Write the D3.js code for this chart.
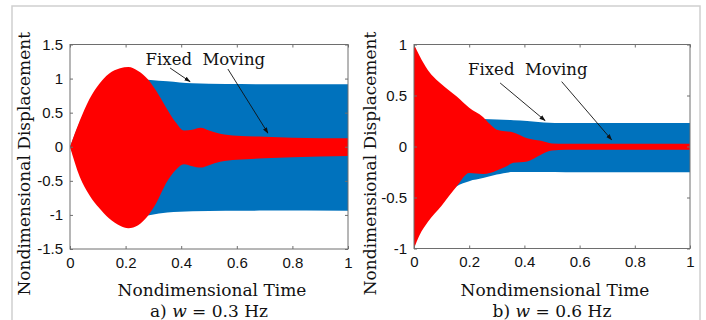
<!DOCTYPE html>
<html>
<head>
<meta charset="utf-8">
<script src="https://cdnjs.cloudflare.com/ajax/libs/d3/7.8.5/d3.min.js"></script>
<style>
  body { margin: 0; background: #fff; }
  svg { display: block; }
  .tick-label { font-family: "Liberation Sans", Arial, sans-serif; font-size: 15px; fill: #111; }
  .serif { font-family: "DejaVu Serif", serif; font-size: 17px; fill: #111; }
  .note { font-family: "DejaVu Serif", serif; font-size: 16.5px; fill: #111; }
</style>
</head>
<body>
<svg id="chart" width="706" height="320"></svg>
<script>
// panel a) w = 0.3 Hz
let timeFixedA = [0, 0.05, 0.1, 0.15, 0.2, 0.25, 0.29, 0.35, 0.44, 0.56, 0.7, 1.0];
let fixedUpA   = [0, 0.5, 0.85, 0.97, 1.0, 0.99, 0.98, 0.96, 0.93, 0.92, 0.918, 0.918];
let fixedLowA  = [0, -0.5, -0.85, -0.99, -1.05, -1.03, -1.0, -0.965, -0.947, -0.94, -0.937, -0.94];

let timeMovingA = [0, 0.035, 0.07, 0.105, 0.14, 0.18, 0.21, 0.245, 0.28, 0.31, 0.345, 0.38, 0.41, 0.44, 0.47, 0.5, 0.54, 0.6, 0.7, 0.8, 1.0];
let movingUpA   = [0, 0.38, 0.70, 0.92, 1.07, 1.15, 1.17, 1.11, 0.99, 0.82, 0.58, 0.36, 0.24, 0.25, 0.28, 0.24, 0.19, 0.16, 0.147, 0.133, 0.124];
let movingLowA  = [0, -0.44, -0.71, -0.90, -1.05, -1.16, -1.195, -1.15, -1.015, -0.83, -0.54, -0.34, -0.255, -0.285, -0.305, -0.27, -0.22, -0.19, -0.17, -0.155, -0.136];

// panel b) w = 0.6 Hz
let timeFixedB = [0, 0.1, 0.155, 0.2, 0.25, 0.3, 0.36, 0.41, 0.47, 0.55, 1.0];
let fixedUpB   = [0.9, 0.55, 0.42, 0.33, 0.27, 0.265, 0.258, 0.25, 0.235, 0.23, 0.23];
let fixedLowB  = [-0.9, -0.55, -0.39, -0.34, -0.31, -0.275, -0.25, -0.25, -0.25, -0.252, -0.252];

let timeMovingB = [0, 0.02, 0.05, 0.1, 0.155, 0.2, 0.25, 0.275, 0.3, 0.33, 0.36, 0.41, 0.46, 0.5, 0.55, 1.0];
let movingUpB   = [1.0, 0.89, 0.75, 0.61, 0.49, 0.38, 0.29, 0.22, 0.165, 0.15, 0.138, 0.082, 0.056, 0.03, 0.027, 0.027];
let movingLowB  = [-1.0, -0.87, -0.74, -0.58, -0.39, -0.26, -0.27, -0.26, -0.235, -0.2, -0.16, -0.146, -0.08, -0.04, -0.032, -0.032];

let xTicks = [0, 0.2, 0.4, 0.6, 0.8, 1];
let yTicksA = [-1.5, -1, -0.5, 0, 0.5, 1, 1.5];
let yTicksB = [-1, -0.5, 0, 0.5, 1];

let svg = d3.select("#chart");

// outer frame
svg.append("rect")
    .attr("x", 12).attr("y", 6)
    .attr("width", 688).attr("height", 330)
    .attr("fill", "none")
    .attr("stroke", "#cfcfcf")
    .attr("stroke-width", 1.5);

svg.append("defs").append("marker")
    .attr("id", "head")
    .attr("viewBox", "0 0 10 10")
    .attr("refX", 9).attr("refY", 5)
    .attr("markerWidth", 7).attr("markerHeight", 7)
    .attr("orient", "auto")
    .append("path")
    .attr("d", "M0,1.5 L10,5 L0,8.5 Z")
    .attr("fill", "#111");

let panels = [
    {
        left: 70, right: 348, top: 44.5, bottom: 249,
        yDomain: [-1.5, 1.5], yTicks: yTicksA,
        fixed: [timeFixedA, fixedUpA, fixedLowA],
        moving: [timeMovingA, movingUpA, movingLowA],
        text: [0.272, 1.2],
        arrowFixed: [[0.36, 1.155], [0.432, 0.955]],
        arrowMoving: [[0.568, 1.14], [0.712, 0.2]],
        ylabelX: 24,
        caption: ["a) ", "0.3"]
    },
    {
        left: 414, right: 690, top: 44.5, bottom: 248.5,
        yDomain: [-1, 1], yTicks: yTicksB,
        fixed: [timeFixedB, fixedUpB, fixedLowB],
        moving: [timeMovingB, movingUpB, movingLowB],
        text: [0.196, 0.70],
        arrowFixed: [[0.312, 0.623], [0.475, 0.254]],
        arrowMoving: [[0.535, 0.636], [0.716, 0.066]],
        ylabelX: 370,
        caption: ["b) ", "0.6"]
    }
];

panels.forEach(function(p) {
    let x = d3.scaleLinear().domain([0, 1]).range([p.left, p.right]);
    let y = d3.scaleLinear().domain(p.yDomain).range([p.bottom, p.top]);

    let g = svg.append("g");

    function band(series, color) {
        let pts = series[0].map(function(t, i) { return { t: t, hi: series[1][i], lo: series[2][i] }; });
        let area = d3.area()
            .curve(d3.curveMonotoneX)
            .x(function(d) { return x(d.t); })
            .y0(function(d) { return y(d.lo); })
            .y1(function(d) { return y(d.hi); });
        g.append("path")
            .datum(pts)
            .attr("d", area)
            .attr("fill", color);
    }

    band(p.fixed, "#0072bd");
    band(p.moving, "#ff0000");

    // axes box with inward ticks on all sides
    g.append("rect")
        .attr("x", p.left).attr("y", p.top)
        .attr("width", p.right - p.left).attr("height", p.bottom - p.top)
        .attr("fill", "none")
        .attr("stroke", "#6e6e6e")
        .attr("stroke-width", 1);

    let tickLen = 3;
    g.append("g")
        .attr("transform", "translate(0," + p.bottom + ")")
        .call(d3.axisBottom(x).tickValues(xTicks).tickSize(-tickLen).tickPadding(8).tickFormat(d3.format("")))
        .call(function(a) {
            a.select(".domain").remove();
            a.selectAll("line").attr("stroke", "#6e6e6e");
            a.selectAll("text").attr("class", "tick-label").attr("font-family", null).attr("font-size", null);
        });
    g.append("g")
        .attr("transform", "translate(0," + p.top + ")")
        .call(d3.axisTop(x).tickValues(xTicks).tickSize(-tickLen).tickFormat(""))
        .call(function(a) {
            a.select(".domain").remove();
            a.selectAll("line").attr("stroke", "#6e6e6e");
        });
    g.append("g")
        .attr("transform", "translate(" + p.left + ",0)")
        .call(d3.axisLeft(y).tickValues(p.yTicks).tickSize(-tickLen).tickPadding(7).tickFormat(function(d) { return String(d); }))
        .call(function(a) {
            a.select(".domain").remove();
            a.selectAll("line").attr("stroke", "#6e6e6e");
            a.selectAll("text").attr("class", "tick-label").attr("font-family", null).attr("font-size", null);
        });
    g.append("g")
        .attr("transform", "translate(" + p.right + ",0)")
        .call(d3.axisRight(y).tickValues(p.yTicks).tickSize(-tickLen).tickFormat(""))
        .call(function(a) {
            a.select(".domain").remove();
            a.selectAll("line").attr("stroke", "#6e6e6e");
        });

    // annotation
    g.append("text")
        .attr("class", "note")
        .attr("x", x(p.text[0]))
        .attr("y", y(p.text[1]))
        .style("white-space", "pre")
        .text("Fixed  Moving");

    [p.arrowFixed, p.arrowMoving].forEach(function(a) {
        g.append("line")
            .attr("x1", x(a[0][0])).attr("y1", y(a[0][1]))
            .attr("x2", x(a[1][0])).attr("y2", y(a[1][1]))
            .attr("stroke", "#111")
            .attr("stroke-width", 0.9)
            .attr("marker-end", "url(#head)");
    });

    // axis titles
    let cx = (p.left + p.right) / 2;
    g.append("text")
        .attr("class", "serif")
        .attr("x", cx + 3)
        .attr("y", 296)
        .attr("text-anchor", "middle")
        .text("Nondimensional Time");

    let cap = g.append("text")
        .attr("class", "serif")
        .attr("x", cx)
        .attr("y", 317)
        .attr("text-anchor", "middle")
        .style("white-space", "pre");
    cap.append("tspan").text(p.caption[0]);
    cap.append("tspan").attr("font-style", "italic").text("w");
    cap.append("tspan").text(" = " + p.caption[1] + " Hz");

    g.append("text")
        .attr("class", "serif")
        .attr("transform", "translate(" + (p.ylabelX + 6) + "," + ((p.top + p.bottom) / 2 + 17) + ") rotate(-90)")
        .attr("text-anchor", "middle")
        .text("Nondimensional Displacement");
});
</script>
</body>
</html>
